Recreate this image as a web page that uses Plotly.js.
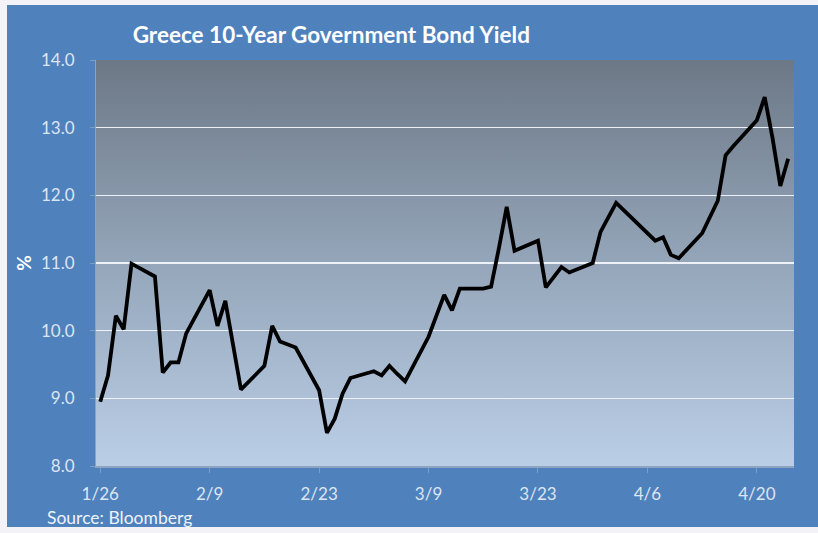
<!DOCTYPE html>
<html>
<head>
<meta charset="utf-8">
<script src="https://cdn.plot.ly/plotly-3.0.1.min.js"></script>
<style>
  html, body { margin: 0; padding: 0; background: #f3f3f7; width: 818px; height: 533px; overflow: hidden; }
  #chart { position: absolute; left: 7px; top: 5px; width: 811px; height: 522px; }
</style>
</head>
<body>
<div id="chart"></div>
<script>
// ---- data (Greece 10-year government bond yield, %, 2015) ----
const dates = [
  '2015-01-26','2015-01-27','2015-01-28','2015-01-29','2015-01-30',
  '2015-02-02','2015-02-03','2015-02-04','2015-02-05','2015-02-06',
  '2015-02-09','2015-02-10','2015-02-11','2015-02-12','2015-02-13',
  '2015-02-16','2015-02-17','2015-02-18','2015-02-19','2015-02-20',
  '2015-02-23','2015-02-24','2015-02-25','2015-02-26','2015-02-27',
  '2015-03-02','2015-03-03','2015-03-04','2015-03-05','2015-03-06',
  '2015-03-09','2015-03-10','2015-03-11','2015-03-12','2015-03-13',
  '2015-03-16','2015-03-17','2015-03-18','2015-03-19','2015-03-20',
  '2015-03-23','2015-03-24','2015-03-25','2015-03-26','2015-03-27',
  '2015-03-30','2015-03-31','2015-04-01','2015-04-02',
  '2015-04-07','2015-04-08','2015-04-09','2015-04-10',
  '2015-04-13','2015-04-14','2015-04-15','2015-04-16','2015-04-17',
  '2015-04-20','2015-04-21','2015-04-22','2015-04-23','2015-04-24'
];
const yields = [
  8.95, 9.34, 10.22, 10.02, 10.99,
  10.80, 9.38, 9.53, 9.53, 9.96,
  10.60, 10.07, 10.44, 9.79, 9.13,
  9.48, 10.07, 9.84, 9.80, 9.75,
  9.12, 8.49, 8.70, 9.07, 9.30,
  9.40, 9.34, 9.48, 9.36, 9.25,
  9.91, 10.22, 10.53, 10.30, 10.62,
  10.62, 10.65, 11.22, 11.83, 11.18,
  11.33, 10.64, 10.79, 10.94, 10.86,
  11.00, 11.46, 11.68, 11.89,
  11.33, 11.38, 11.12, 11.07,
  11.44, 11.68, 11.92, 12.59, 12.73,
  13.11, 13.45, 12.85, 12.14, 12.54
];
const xTickVals = ['2015-01-26','2015-02-09','2015-02-23','2015-03-09','2015-03-23','2015-04-06','2015-04-20'];
const xTickText = ['1/26','2/9','2/23','3/9','3/23','4/6','4/20'];
const yTickVals = [8, 9, 10, 11, 12, 13, 14];
const yTickText = ['8.0','9.0','10.0','11.0','12.0','13.0','14.0'];

const FONT = 'Lato, "Open Sans", sans-serif';
const tickColor = '#dce6f2';

const gradSvg = '<svg xmlns="http://www.w3.org/2000/svg" width="10" height="10" viewBox="0 0 10 10" preserveAspectRatio="none">' +
  '<defs><linearGradient id="g" x1="0" y1="0" x2="0" y2="1">' +
  '<stop offset="0" stop-color="#6c7886"/>' +
  '<stop offset="0.5" stop-color="#95a6ba"/>' +
  '<stop offset="1" stop-color="#bacee6"/>' +
  '</linearGradient></defs><rect x="0" y="0" width="10" height="10" fill="url(#g)"/></svg>';
const gradUri = 'data:image/svg+xml;charset=utf-8,' + encodeURIComponent(gradSvg);

const trace = {
  type: 'scatter', mode: 'lines',
  x: dates, y: yields,
  line: { color: '#000000', width: 3.8 },
  hoverinfo: 'x+y'
};

const layout = {
  width: 811, height: 522,
  paper_bgcolor: '#4f81bd',
  plot_bgcolor: 'rgba(0,0,0,0)',
  margin: { l: 89, r: 24, t: 55, b: 61 },
  showlegend: false,
  title: {
    text: 'Greece 10-Year Government Bond Yield',
    font: { family: FONT, size: 22.5, color: '#ffffff', weight: 'bold' },
    x: 0.155, xanchor: 'left', xref: 'container',
    y: 0.943, yanchor: 'middle', yref: 'container'
  },
  xaxis: {
    type: 'date',
    range: ['2015-01-25 11:00', '2015-04-24 18:00'],
    tickmode: 'array', tickvals: xTickVals, ticktext: xTickText,
    showgrid: false, zeroline: false,
    showline: true, linecolor: '#8ea3bf', linewidth: 1.5,
    ticks: 'outside', ticklen: 5, tickcolor: '#7f9cc4', tickwidth: 1,
    ticklabelstandoff: 7,
    tickfont: { family: FONT, size: 17, color: tickColor },
    fixedrange: true
  },
  yaxis: {
    range: [8, 14],
    tickmode: 'array', tickvals: yTickVals, ticktext: yTickText,
    showgrid: true, gridcolor: '#eef2f8', gridwidth: 1.6,
    zeroline: false,
    showline: true, linecolor: '#8ea3bf', linewidth: 1,
    ticks: 'outside', ticklen: 5, tickcolor: '#7f9cc4', tickwidth: 1,
    ticklabelstandoff: 12,
    tickfont: { family: FONT, size: 17, color: tickColor },
    title: { text: '%', font: { family: FONT, size: 19, color: '#ffffff', weight: 'bold' }, standoff: 4 },
    fixedrange: true
  },
  images: [{
    source: gradUri, xref: 'paper', yref: 'paper',
    x: 0, y: 1, sizex: 1, sizey: 1,
    xanchor: 'left', yanchor: 'top',
    sizing: 'stretch', layer: 'below'
  }],
  annotations: [{
    text: 'Source: Bloomberg',
    xref: 'paper', yref: 'paper',
    x: -0.0725, y: -0.128, xanchor: 'left', yanchor: 'middle',
    showarrow: false,
    font: { family: FONT, size: 17.5, color: '#eef3fa' }
  }]
};

Plotly.newPlot('chart', [trace], layout, { staticPlot: true, displayModeBar: false });
</script>
</body>
</html>
